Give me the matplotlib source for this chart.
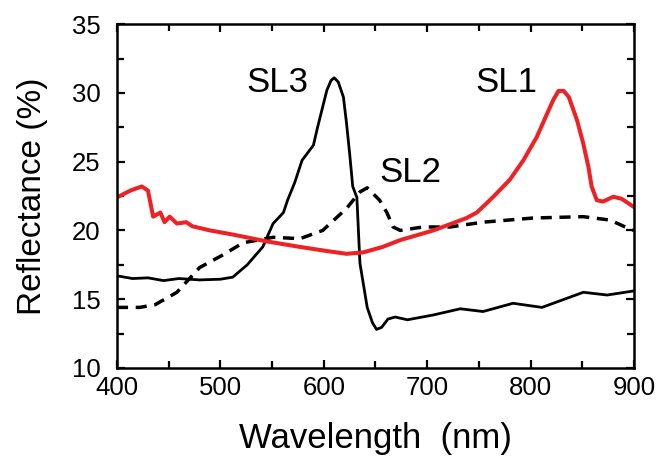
import matplotlib.pyplot as plt
from matplotlib.ticker import MultipleLocator

plt.rcParams['font.family'] = ['Liberation Sans', 'DejaVu Sans']

# SL1 (red)
sl1_wl = [400, 413, 424, 430, 435, 442, 446, 451, 458, 467, 473, 490, 512, 545, 577,
          603, 622, 638, 657, 674, 706, 738, 748, 764, 780, 793, 806, 816, 822, 827,
          832, 837, 845, 851, 856, 859, 864, 870, 880, 888, 900]
sl1_r = [22.4, 22.9, 23.2, 22.9, 21.0, 21.3, 20.6, 21.0, 20.5, 20.6, 20.3, 20.0, 19.7, 19.2, 18.8,
         18.5, 18.3, 18.4, 18.8, 19.3, 20.0, 20.9, 21.3, 22.45, 23.7, 25.1, 26.8, 28.5, 29.5, 30.15,
         30.15, 29.7, 28.0, 26.3, 24.6, 23.2, 22.2, 22.1, 22.45, 22.3, 21.7]

# SL2 (dashed)
sl2_wl = [400, 422, 437, 458, 480, 502, 522, 551, 577, 599, 622, 635, 642, 654, 661,
          667, 674, 696, 722, 754, 802, 851, 877, 893, 900]
sl2_r = [14.4, 14.4, 14.6, 15.5, 17.3, 18.2, 19.1, 19.5, 19.4, 20.0, 21.6, 22.8, 23.1, 22.2, 21.3,
         20.25, 20.0, 20.25, 20.25, 20.6, 20.9, 21.0, 20.75, 20.2, 20.0]

# SL3 (solid black)
sl3_wl = [400, 415, 430, 445, 460, 480, 500, 512, 526, 541, 551, 561, 565, 572, 579,
          585, 590, 594, 599, 603, 607, 610, 614, 619, 622, 625, 628, 632, 635, 642,
          647, 651, 656, 662, 669, 681, 706, 732, 754, 783, 811, 851, 874, 900]
sl3_r = [16.7, 16.5, 16.55, 16.35, 16.5, 16.4, 16.45, 16.6, 17.5, 18.8, 20.5, 21.3, 22.2, 23.5, 25.1,
         25.7, 26.2, 27.5, 29.0, 30.2, 30.9, 31.1, 30.8, 29.7, 27.8, 25.6, 23.2, 22.4, 17.6, 14.4,
         13.3, 12.8, 12.95, 13.55, 13.7, 13.5, 13.85, 14.3, 14.1, 14.7, 14.4, 15.5, 15.3, 15.6]

fig = plt.figure(figsize=(6.57, 4.57), dpi=100)
ax = fig.add_axes([0.178, 0.195, 0.787, 0.752])

ax.plot(sl3_wl, sl3_r, color='black', lw=2.0)
ax.plot(sl2_wl, sl2_r, color='black', lw=2.5, linestyle=(0, (3.2, 2.2)))
ax.plot(sl1_wl, sl1_r, color='#ee2124', lw=2.9)

ax.text(585, 30.1, 'SL3', fontsize=25, ha='right', va='baseline')
ax.text(684, 23.5, 'SL2', fontsize=25, ha='center', va='baseline')
ax.text(777, 30.1, 'SL1', fontsize=25, ha='center', va='baseline')

ax.set_xlim(400, 900)
ax.set_ylim(10, 35)
ax.xaxis.set_major_locator(MultipleLocator(100))
ax.xaxis.set_minor_locator(MultipleLocator(50))
ax.yaxis.set_major_locator(MultipleLocator(5))
ax.yaxis.set_minor_locator(MultipleLocator(2.5))
ax.tick_params(which='both', direction='in', top=True, right=True, width=1.6, labelsize=18.5)
ax.tick_params(which='major', length=6, pad=12)
ax.tick_params(axis='x', which='major', pad=6)
ax.tick_params(which='minor', length=5)
for s in ax.spines.values():
    s.set_linewidth(1.8)

ax.set_xlabel('Wavelength  (nm)', fontsize=25, labelpad=16)
ax.set_ylabel('Reflectance (%)', fontsize=24, labelpad=17)

fig.savefig('out.png', dpi=100)
